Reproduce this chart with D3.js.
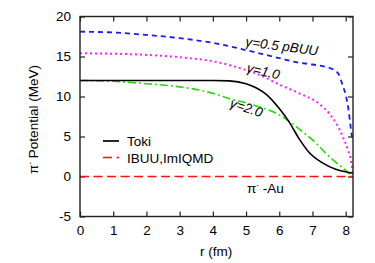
<!DOCTYPE html>
<html><head><meta charset="utf-8">
<script src="https://cdn.jsdelivr.net/npm/d3@7"></script>
<style>body{margin:0;background:#fff}svg{display:block}text{font-family:"Liberation Sans",Arial,sans-serif;fill:#000}</style>
</head><body>
<script>
const xTicks=[0,1,2,3,4,5,6,7,8];
const yTicks=[-5,0,5,10,15,20];
const rBlue=[0,1,2,3,4,5,5.5,6,6.5,7,7.4,7.65,7.8,7.9,8.0,8.08,8.14,8.2];
const vBlue=[18.1,18.0,17.7,17.3,16.7,15.8,15.3,14.8,14.3,14.0,13.7,13.3,12.7,11.5,10.2,8.5,6.5,4.6];
const rMag=[0,1,2,3,4,5,5.4,6,6.6,7.2,7.5,7.75,7.92,8.07,8.17,8.22];
const vMag=[15.4,15.35,15.2,14.9,14.4,13.3,12.7,11.5,10.4,9.1,7.9,6.4,4.9,3.3,1.7,0.2];
const rToki=[0,1,2,3,4,4.5,5.0,5.3,5.6,6.0,6.3,6.6,6.9,7.3,7.7,8.22];
const vToki=[12.0,12.0,12.0,12.0,12.0,11.95,11.6,11.1,10.3,8.5,6.8,4.7,3.0,1.7,0.9,0.4];
const rGreen=[0,1,2,3,3.6,4,4.6,5,5.4,5.9,6.3,6.7,7.1,7.5,7.9,8.2];
const vGreen=[12.0,11.9,11.6,11.2,10.8,10.4,9.6,9.2,8.7,7.9,6.9,5.6,4.2,2.5,1.1,0.0];
const rRed=[0,8.22];
const vRed=[0,0];

const W=375,H=263,m={l:80,r:22,t:16.5,b:46.5};
const svg=d3.select("body").append("svg").attr("width",W).attr("height",H);
const x=d3.scaleLinear().domain([0,8.22]).range([m.l,W-m.r]);
const y=d3.scaleLinear().domain([-5,20]).range([H-m.b,m.t]);
const fs=13.5;

svg.append("clipPath").attr("id","c").append("rect")
 .attr("x",m.l).attr("y",m.t).attr("width",W-m.r-m.l).attr("height",H-m.b-m.t);

const fmt=d=>String(d);
const gx=svg.append("g").attr("transform",`translate(0,${H-m.b})`)
 .call(d3.axisBottom(x).tickValues(xTicks).tickSize(-5).tickPadding(9).tickFormat(fmt));
const gxt=svg.append("g").attr("transform",`translate(0,${m.t})`)
 .call(d3.axisTop(x).tickValues(xTicks).tickSize(-5).tickFormat(""));
const gy=svg.append("g").attr("transform",`translate(${m.l},0)`)
 .call(d3.axisLeft(y).tickValues(yTicks).tickSize(-5).tickPadding(9).tickFormat(fmt));
const gyr=svg.append("g").attr("transform",`translate(${W-m.r},0)`)
 .call(d3.axisRight(y).tickValues(yTicks).tickSize(-5).tickFormat(""));
[gx,gxt,gy,gyr].forEach(g=>{g.select(".domain").remove();g.selectAll("line").attr("stroke","#222").attr("stroke-width",1.2);
 g.selectAll("text").style("font-size",fs+"px").attr("fill","#000");});
gx.selectAll("text").attr("dy","0.71em");

const line=d3.line().x(d=>x(d[0])).y(d=>y(d[1])).curve(d3.curveMonotoneX);
const series=[
 {r:rRed,v:vRed,c:"#ff1010",dash:"9,4.5",w:1.7},
 {r:rBlue,v:vBlue,c:"#1a1aff",dash:"5,4",w:1.8},
 {r:rMag,v:vMag,c:"#ff20ff",dash:"2,3",w:2},
 {r:rGreen,v:vGreen,c:"#22dd00",dash:"8,3,2,3",w:1.6},
 {r:rToki,v:vToki,c:"#000",dash:null,w:1.6}
];
const gl=svg.append("g").attr("clip-path","url(#c)");
series.forEach(s=>{
 gl.append("path").datum(s.r.map((r,i)=>[r,s.v[i]])).attr("d",line)
  .attr("fill","none").attr("stroke",s.c).attr("stroke-width",s.w)
  .attr("stroke-dasharray",s.dash);
});

svg.append("rect").attr("x",m.l).attr("y",m.t).attr("width",W-m.r-m.l).attr("height",H-m.b-m.t)
 .attr("fill","none").attr("stroke","#222").attr("stroke-width",1.4);

const leg=[{t:"Toki",c:"#000",dash:null,yy:141},{t:"IBUU,ImIQMD",c:"#ff1010",dash:"9,4.5",yy:157.5}];
leg.forEach(l=>{
 svg.append("line").attr("x1",103).attr("x2",119).attr("y1",l.yy).attr("y2",l.yy)
  .attr("stroke",l.c).attr("stroke-width",1.7).attr("stroke-dasharray",l.dash);
 svg.append("text").attr("x",127).attr("y",l.yy+5).style("font-size",fs+"px").text(l.t);
});

const ann=[{t:"γ=0.5 pBUU",x:245,y:46,a:7.5},{t:"γ=1.0",x:246,y:72,a:13},{t:"γ=2.0",x:229,y:107,a:18}];
ann.forEach(a=>{
 svg.append("text").attr("transform",`translate(${a.x},${a.y}) rotate(${a.a})`)
  .style("font-size",fs+"px").style("font-style","italic").text(a.t);
});
const pa=svg.append("text").attr("x",247).attr("y",193).style("font-size",fs+"px");
pa.append("tspan").text("π");
pa.append("tspan").attr("dy",-6).style("font-size","8px").text("-");
pa.append("tspan").attr("dy",6).text(" -Au");

svg.append("text").attr("x",x(4.1)).attr("y",256).attr("text-anchor","middle").style("font-size",fs+"px").text("r (fm)");
const yl=svg.append("text").attr("transform",`translate(38,${(m.t+H-m.b)/2+3}) rotate(-90)`).attr("text-anchor","middle").style("font-size",fs+"px");
yl.append("tspan").text("π");
yl.append("tspan").attr("dy",-6).style("font-size","8px").text("-");
yl.append("tspan").attr("dy",6).text(" Potential (MeV)");
</script>
</body></html>
